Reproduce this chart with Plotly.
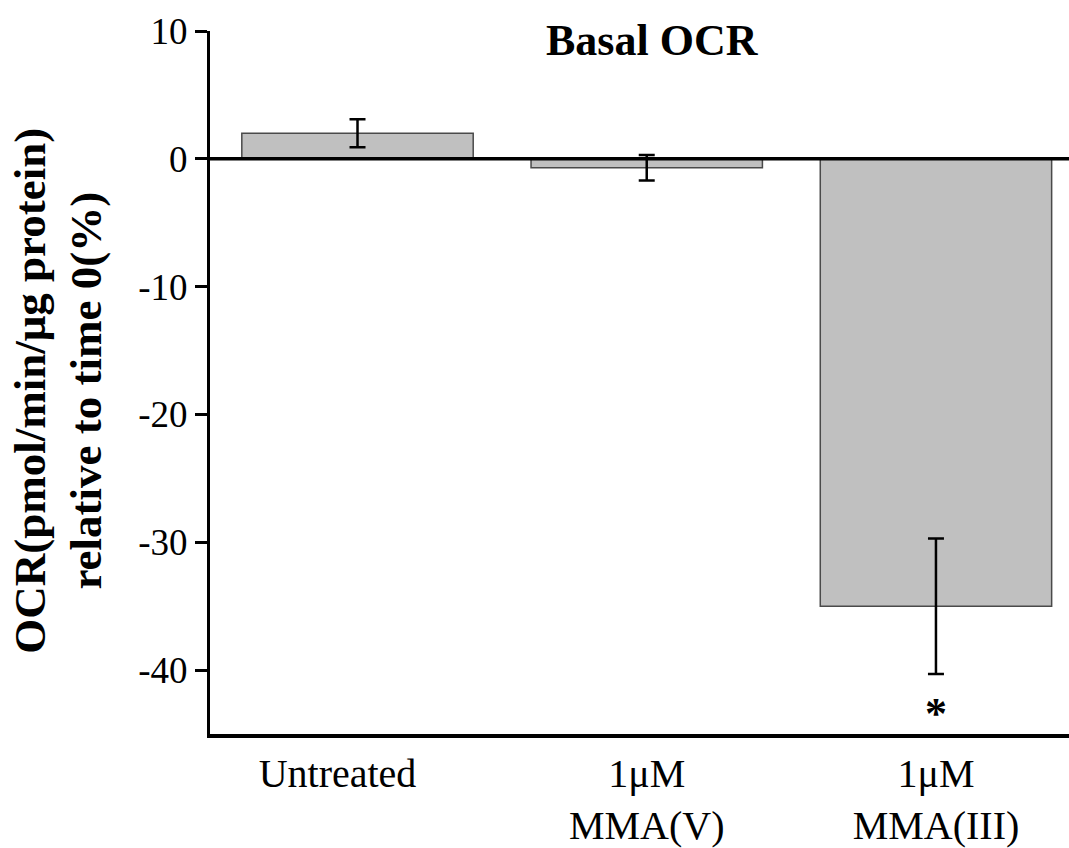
import plotly.graph_objects as go

categories = ["Untreated\u00a0\u00a0\u00a0\u00a0", "1\u03bcM<br>MMA(V)", "1\u03bcM<br>MMA(III)"]
values = [2.0, -0.7, -35.0]
errors = [1.1, 1.0, 5.3]
significance = ["", "", "*"]
sig_y = [None, None, -43.4]
y_ticks = [10, 0, -10, -20, -30, -40]
y_tick_text = ["10", "0", "-10", "-20", "-30", "-40"]
title_text = "Basal OCR"
y_title_lines = ["OCR(pmol/min/\u03bcg protein)", "relative to time 0(%)"]

serif = "Liberation Serif, Times New Roman, serif"

fig = go.Figure()
fig.add_trace(go.Bar(
    x=list(range(len(categories))), y=values,
    width=0.8,
    marker=dict(color="#c0c0c0", line=dict(color="#4a4a4a", width=1.5)),
    error_y=dict(type="data", array=errors, visible=True, color="black", thickness=2.5, width=8),
    showlegend=False,
))
for i, (s, yy) in enumerate(zip(significance, sig_y)):
    if s:
        fig.add_annotation(x=i, y=yy, text="<b>%s</b>" % s, showarrow=False,
                           font=dict(family=serif, size=44, color="black"), yanchor="middle")

fig.add_shape(type="line", xref="paper", x0=0, x1=1, yref="y", y0=0, y1=0,
              line=dict(color="black", width=3.5), layer="above")

fig.add_annotation(xref="paper", yref="paper", x=0.515, y=0.987, yanchor="middle",
                   text="<b>%s</b>" % title_text, showarrow=False,
                   font=dict(family=serif, size=44, color="black"))

for xpos, line in zip([-0.209, -0.144], y_title_lines):
    fig.add_annotation(xref="paper", yref="paper", x=xpos, y=0.489,
                       xanchor="center", yanchor="middle",
                       text="<b>%s</b>" % line, textangle=-90, showarrow=False,
                       font=dict(family=serif, size=45, color="black"))

fig.update_layout(
    width=1069, height=848,
    margin=dict(l=210, r=0, t=31, b=112),
    paper_bgcolor="white", plot_bgcolor="white",
)
fig.update_xaxes(
    range=[-0.51, 2.46],
    tickvals=list(range(len(categories))), ticktext=categories,
    showline=True, linecolor="black", linewidth=4,
    ticks="", showgrid=False, zeroline=False,
    ticklabelstandoff=1,
    tickfont=dict(family=serif, size=40, color="black"),
)
fig.update_yaxes(
    range=[-45, 10], tickvals=y_ticks, ticktext=y_tick_text,
    showline=True, linecolor="black", linewidth=3,
    ticks="outside", ticklen=12, tickwidth=2.5, tickcolor="black",
    showgrid=False, zeroline=False,
    tickfont=dict(family=serif, size=37, color="black"),
)

fig.write_html("out.html")
